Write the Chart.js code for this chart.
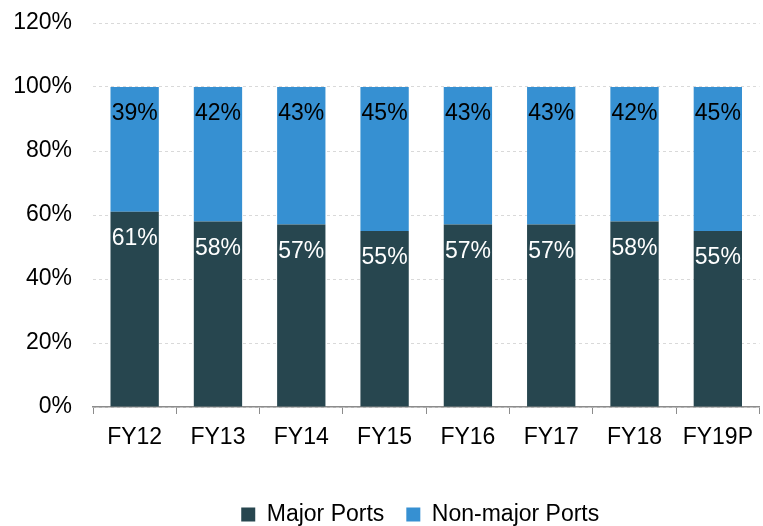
<!DOCTYPE html>
<html>
<head>
<meta charset="UTF-8">
<title>Port share</title>
<script src="https://cdn.jsdelivr.net/npm/chart.js@4.4.0/dist/chart.umd.min.js"></script>
<style>
  body { margin: 0; background: #fff; }
  #wrap { width: 763px; height: 526px; }
</style>
</head>
<body>
<div id="wrap"><canvas id="myChart" width="763" height="526"></canvas></div>
<script>
  // values (percent)
  let years = ["FY12", "FY13", "FY14", "FY15", "FY16", "FY17", "FY18", "FY19P"];
  let major = [61, 58, 57, 55, 57, 57, 58, 55];
  let nonMajor = [39, 42, 43, 45, 43, 43, 42, 45];
  let yTicks = [0, 20, 40, 60, 80, 100, 120];

  let font = "'Liberation Sans', Arial, sans-serif";

  // labels drawn just under the top edge of each segment
  let segLabels = {
    id: 'segLabels',
    afterDatasetsDraw(chart) {
      let ctx = chart.ctx;
      ctx.save();
      ctx.font = "23px " + font;
      ctx.textAlign = 'center';
      ctx.textBaseline = 'middle';
      chart.data.datasets.forEach(function(ds, i) {
        let meta = chart.getDatasetMeta(i);
        ctx.fillStyle = ds.labelColor;
        meta.data.forEach(function(bar, j) {
          ctx.fillText(ds.data[j] + '%', bar.x, bar.y + 27);
        });
      });
      ctx.restore();
    }
  };

  // centre the legend under the plot area instead of the whole canvas
  let legendShift = {
    id: 'legendShift',
    afterLayout(chart) {
      let lg = chart.legend;
      let d = (chart.chartArea.left + chart.chartArea.right) / 2 - (lg.left + lg.right) / 2 - 6;
      lg.left += d;
      lg.right += d;
    }
  };

  new Chart("myChart", {
    type: "bar",
    data: {
      labels: years,
      datasets: [{
        label: "Major Ports",
        data: major,
        backgroundColor: "#27464f",
        labelColor: "#ffffff",
        barPercentage: 0.58,
        categoryPercentage: 1
      }, {
        label: "Non-major Ports",
        data: nonMajor,
        backgroundColor: "#3690d2",
        labelColor: "#000000",
        barPercentage: 0.58,
        categoryPercentage: 1
      }]
    },
    plugins: [segLabels, legendShift],
    options: {
      responsive: false,
      animation: false,
      layout: { padding: { top: 23, right: 0, left: 0, bottom: -10 } },
      plugins: {
        legend: {
          position: 'bottom',
          labels: {
            font: { family: font, size: 23 },
            color: '#000',
            boxWidth: 14,
            boxHeight: 14,
            padding: 22
          }
        },
        tooltip: { enabled: false }
      },
      scales: {
        x: {
          stacked: true,
          offset: true,
          grid: { drawOnChartArea: false, drawTicks: true, tickLength: 7, tickColor: '#8c8c8c', offset: true },
          border: { color: '#8c8c8c', width: 1.5 },
          ticks: { font: { family: font, size: 23 }, color: '#000', padding: 10 },
          afterFit: function(s) { s.height = 74; }
        },
        y: {
          stacked: true,
          min: 0,
          max: 120,
          afterBuildTicks: function(s) { s.ticks = yTicks.map(function(v) { return { value: v }; }); },
          grid: { color: '#d9d9d9', drawTicks: false },
          border: { display: false, dash: [3, 3] },
          ticks: {
            font: { family: font, size: 23 },
            color: '#000',
            padding: 21,
            callback: function(v) { return v + '%'; }
          },
          afterFit: function(s) { s.width = 93; s.paddingTop = 0; }
        }
      }
    }
  });
</script>
</body>
</html>
